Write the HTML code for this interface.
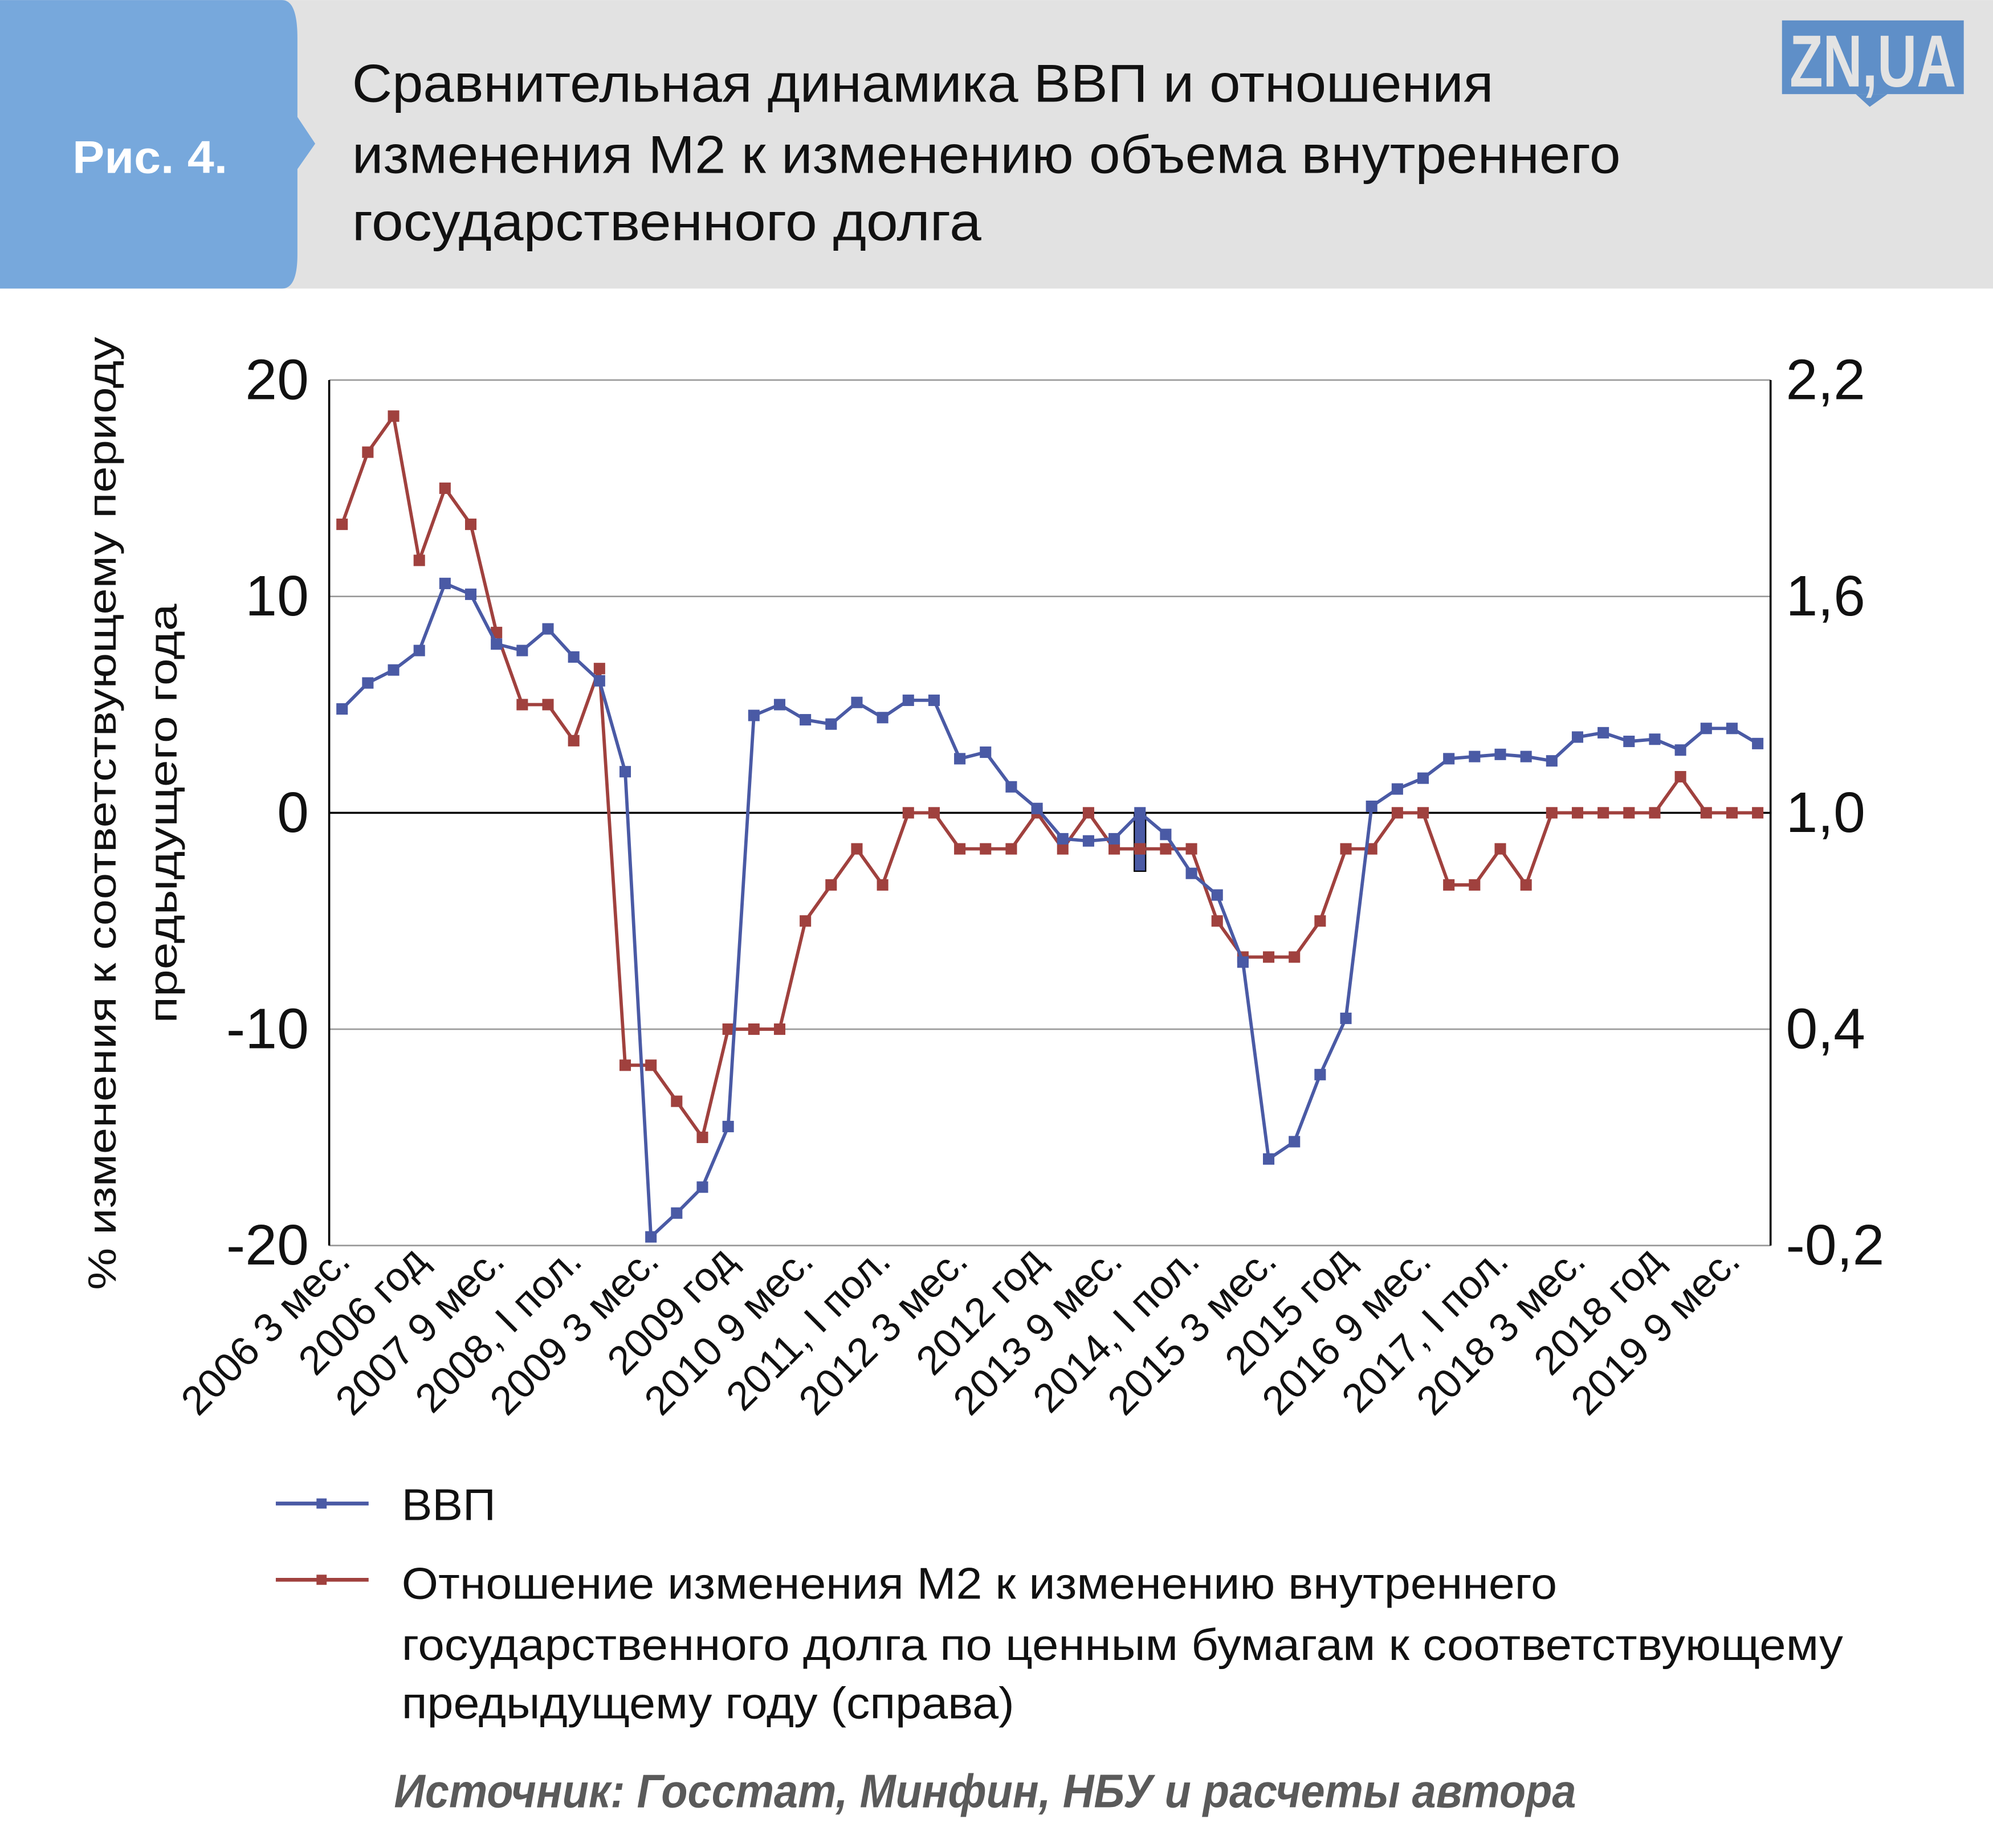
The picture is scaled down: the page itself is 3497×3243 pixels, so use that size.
<!DOCTYPE html>
<html><head><meta charset="utf-8"><style>html,body{margin:0;padding:0;background:#fff}svg{display:block}text{font-family:"Liberation Sans",sans-serif}</style></head>
<body>
<svg id="chart" width="3497" height="3243" viewBox="0 0 1568 1454" xmlns="http://www.w3.org/2000/svg">
<rect x="0" y="0" width="1568" height="227" fill="#e2e2e2"/>
<path d="M0 0 H222 Q234 0 234 30 V92 L248 113 L234 133 V200 Q234 227 222 227 H0 Z" fill="#77a8dc"/>
<text x="57" y="136" font-size="36" font-weight="bold" fill="#fff" textLength="122" lengthAdjust="spacingAndGlyphs">Рис. 4.</text>
<g font-size="42" fill="#111">
<text x="277" y="80" textLength="898" lengthAdjust="spacingAndGlyphs">Сравнительная динамика ВВП и отношения</text>
<text x="277" y="136" textLength="998" lengthAdjust="spacingAndGlyphs">изменения М2 к изменению объема внутреннего</text>
<text x="277" y="189" textLength="495" lengthAdjust="spacingAndGlyphs">государственного долга</text>
</g>
<g>
<rect x="1402" y="16" width="143" height="58" fill="#5f8fc8"/>
<path d="M1460 74 L1471 84 L1485 74 Z" fill="#5f8fc8"/>
<text x="1408" y="68" font-size="58" font-weight="bold" fill="#e3e3e3" textLength="131" lengthAdjust="spacingAndGlyphs">ZN,UA</text>
</g>
<g id="plot"></g>
<g font-size="31" fill="#111">
<text transform="translate(91,640) rotate(-90)" text-anchor="middle" textLength="750" lengthAdjust="spacingAndGlyphs">% изменения к соответствующему периоду</text>
<text transform="translate(139,640) rotate(-90)" text-anchor="middle" textLength="330" lengthAdjust="spacingAndGlyphs">предыдущего года</text>
</g>
<g>
<g>
<line x1="217" y1="1183" x2="290" y2="1183" stroke="#4a5aa5" stroke-width="3"/><rect x="249" y="1179" width="8" height="8" fill="#4a5aa5"/>
<text x="316" y="1196" font-size="35" fill="#111" textLength="74" lengthAdjust="spacingAndGlyphs">ВВП</text></g>
<g>
<line x1="217" y1="1243" x2="290" y2="1243" stroke="#a0413e" stroke-width="3"/><rect x="249" y="1239" width="8" height="8" fill="#a0413e"/>
<text x="316" y="1258" font-size="35" fill="#111" textLength="909" lengthAdjust="spacingAndGlyphs">Отношение изменения М2 к изменению внутреннего</text>
<text x="316" y="1306" font-size="35" fill="#111" textLength="1134" lengthAdjust="spacingAndGlyphs">государственного долга по ценным бумагам к соответствующему</text>
<text x="316" y="1352" font-size="35" fill="#111" textLength="482" lengthAdjust="spacingAndGlyphs">предыдущему году (справа)</text></g>
</g>
<text x="310" y="1422" font-size="37" font-weight="bold" font-style="italic" fill="#5a5a5a" textLength="930" lengthAdjust="spacingAndGlyphs">Источник: Госстат, Минфин, НБУ и расчеты автора</text>
</svg>
<script>
const gdp=[4.8,6.0,6.6,7.5,10.6,10.1,7.8,7.5,8.5,7.2,6.1,1.9,-19.6,-18.5,-17.3,-14.5,4.5,5.0,4.3,4.1,5.1,4.4,5.2,5.2,2.5,2.8,1.2,0.2,-1.2,-1.3,-1.2,0.0,-1.0,-2.8,-3.8,-6.9,-16.0,-15.2,-12.1,-9.5,0.3,1.1,1.6,2.5,2.6,2.7,2.6,2.4,3.5,3.7,3.3,3.4,2.9,3.9,3.9,3.2];
const ratio=[1.8,2.0,2.1,1.7,1.9,1.8,1.5,1.3,1.3,1.2,1.4,0.3,0.3,0.2,0.1,0.4,0.4,0.4,0.7,0.8,0.9,0.8,1.0,1.0,0.9,0.9,0.9,1.0,0.9,1.0,0.9,0.9,0.9,0.9,0.7,0.6,0.6,0.6,0.7,0.9,0.9,1.0,1.0,0.8,0.8,0.9,0.8,1.0,1.0,1.0,1.0,1.0,1.1,1.0,1.0,1.0];
const leftTicks=[20,10,0,-10,-20];
const leftTickLabels=["20","10","0","-10","-20"];
const rightTickLabels=["2,2","1,6","1,0","0,4","-0,2"];
const xLabels=["2006 3 мес.","2006 год","2007 9 мес.","2008, I пол.","2009 3 мес.","2009 год","2010 9 мес.","2011, I пол.","2012 3 мес.","2012 год","2013 9 мес.","2014, I пол.","2015 3 мес.","2015 год","2016 9 мес.","2017, I пол.","2018 3 мес.","2018 год","2019 9 мес."];
const xLabelIndex=[0,3,6,9,12,15,18,21,24,27,30,33,36,39,42,45,48,51,54];
const barIndex=31, barValue=-2.7;
const L=259,R=1393,T=299,B=980,n=gdp.length;
const ns="http://www.w3.org/2000/svg",g=document.getElementById('plot');
const xs=i=>L+(R-L)*(i+0.5)/n;
const yl=v=>T+(20-v)/40*(B-T);
const yr=v=>T+(2.2-v)/2.4*(B-T);
function mk(t,a,p){const e=document.createElementNS(ns,t);for(const k in a)e.setAttribute(k,a[k]);(p||g).appendChild(e);return e;}
leftTicks.forEach((v,i)=>{
 const ln=mk('line',{x1:L,x2:R,y1:yl(v),y2:yl(v),stroke:v===0?'#000':'#999','stroke-width':v===0?1.6:1.2});
 
 
 const t=mk('text',{x:243,y:yl(v)+15,'font-size':45,'text-anchor':'end',fill:'#111'});t.textContent=leftTickLabels[i];
 
 
 const t2=mk('text',{x:1405,y:yl(v)+15,'font-size':45,fill:'#111'});t2.textContent=rightTickLabels[i];
 
 
});
const la=mk('line',{x1:L,x2:L,y1:T,y2:B,stroke:'#000','stroke-width':1.6});


const ra=mk('line',{x1:R,x2:R,y1:T,y2:B,stroke:'#000','stroke-width':1.6});


xLabels.forEach((s,k)=>{
 const x=xs(xLabelIndex[k])+8;
 const t=mk('text',{transform:`translate(${x},${B+14}) rotate(-45)`,'font-size':32,'text-anchor':'end',fill:'#111'});t.textContent=s;
 
 
});
const bar=mk('rect',{x:xs(barIndex)-4.5,y:yl(0),width:9,height:yl(barValue)-yl(0),fill:'#4a5aa5',stroke:'#000','stroke-width':1});


function series(vals,yf,col,name){
 const p=mk('polyline',{points:vals.map((v,i)=>xs(i)+','+yf(v)).join(' '),fill:'none',stroke:col,'stroke-width':2.6,'stroke-linejoin':'round'});
 
 
 vals.forEach((v,i)=>{const r=mk('rect',{x:xs(i)-4.5,y:yf(v)-4.5,width:9,height:9,fill:col});
 
 });
}
series(ratio,yr,'#a0413e','m2-ratio');
series(gdp,yl,'#4a5aa5','gdp');
</script>
</body></html>
